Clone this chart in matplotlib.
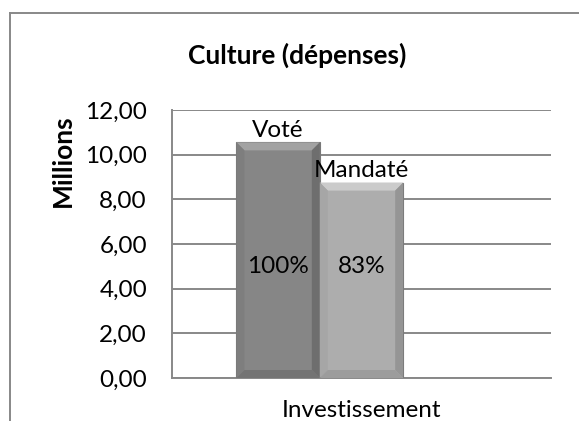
import matplotlib
matplotlib.use('Agg')
from matplotlib import pyplot as plt
from matplotlib.lines import Line2D
from matplotlib.patches import Polygon
from matplotlib.transforms import IdentityTransform

# data
series = ['Voté', 'Mandaté']
values = [10.55, 8.75]
percents = ['100%', '83%']
category = 'Investissement'
yticks = [0, 2, 4, 6, 8, 10, 12]
ytick_labels = ['0,00', '2,00', '4,00', '6,00', '8,00', '10,00', '12,00']

plt.rcParams['font.family'] = ['Lato', 'DejaVu Sans']

W, H = 579, 421
fig = plt.figure(figsize=(W / 100, H / 100), dpi=100)
ax = fig.add_axes([172 / W, 1 - 378 / H, (551 - 172) / W, (378 - 110) / H])
ax.set_xlim(-0.5, 0.5)
ax.set_ylim(0, 12)

width = 0.22
offsets = [-width, 0.0]
fills = ['#868686', '#adadad']
tops = ['#a2a2a2', '#cbcbcb']
lefts = ['#7e7e7e', '#a6a6a6']
rights = ['#6e6e6e', '#959595']
bottoms = ['#747474', '#9c9c9c']
bev = 8  # bevel size in pixels

for i, (name, val) in enumerate(zip(series, values)):
    x = offsets[i]
    ax.bar(x, val, width=width, color=fills[i], edgecolor='#777777', linewidth=0.8, zorder=3)
    # bevel drawn in pixel space from the bar corners
    (x0, y0), (x1, y1) = ax.transData.transform([(x - width / 2, 0), (x + width / 2, val)])
    faces = [
        ([(x0, y1), (x1, y1), (x1 - bev, y1 - bev), (x0 + bev, y1 - bev)], tops[i]),
        ([(x0, y0), (x0, y1), (x0 + bev, y1 - bev), (x0 + bev, y0 + bev)], lefts[i]),
        ([(x1, y0), (x1, y1), (x1 - bev, y1 - bev), (x1 - bev, y0 + bev)], rights[i]),
        ([(x0, y0), (x1, y0), (x1 - bev, y0 + bev), (x0 + bev, y0 + bev)], bottoms[i]),
    ]
    for pts, c in faces:
        ax.add_patch(Polygon(pts, closed=True, facecolor=c, edgecolor='none',
                             transform=IdentityTransform(), zorder=4))
    ax.text(x, val + 0.05, name, ha='center', va='bottom', fontsize=17.5, zorder=5)
    ax.text(x, 5.0, percents[i], ha='center', va='center', fontsize=17.5, zorder=5)

ax.set_yticks(yticks)
ax.set_yticklabels(ytick_labels, fontsize=17.5)
ax.set_xticks([0])
ax.set_xticklabels([category], fontsize=17.5)
ax.tick_params(axis='x', length=0, pad=16)
ax.tick_params(axis='y', length=0, pad=18)
ax.yaxis.grid(True, color='#888888', linewidth=1.4, zorder=0)
ax.set_axisbelow(True)
for s in ['top', 'right']:
    ax.spines[s].set_visible(False)
for s in ['left', 'bottom']:
    ax.spines[s].set_color('#888888')
    ax.spines[s].set_linewidth(1.4)

fig.text(297 / W, 1 - 55 / H, 'Culture (dépenses)', ha='center', va='center',
         fontsize=19, fontweight='bold')
fig.text(63 / W, 1 - 161 / H, 'Millions', ha='center', va='center', rotation=90,
         fontsize=19, fontweight='bold')

# chart frame (cropped: only top and left edges visible)
fig.add_artist(Line2D([10 / W, 1], [1 - 13 / H, 1 - 13 / H], color='#888888', linewidth=1.4))
fig.add_artist(Line2D([10 / W, 10 / W], [0, 1 - 13 / H], color='#888888', linewidth=1.4))

fig.savefig('out.png', dpi=100)
